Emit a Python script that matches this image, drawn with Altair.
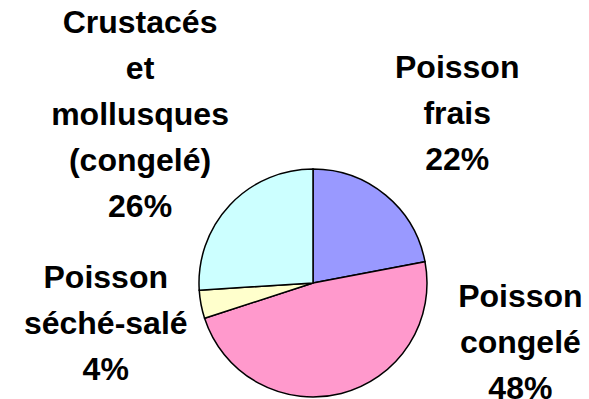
import math

import altair as alt
import pandas as pd

# Répartition des produits de la mer (en % du total)
categories = [
    "Poisson frais",
    "Poisson congelé",
    "Poisson séché-salé",
    "Crustacés et mollusques (congelé)",
]
valeurs = [22, 48, 4, 26]
couleurs = ["#9999FF", "#FF99CC", "#FFFFCC", "#CCFFFF"]

df = pd.DataFrame(
    {"categorie": categories, "valeur": valeurs, "rang": list(range(len(categories)))}
)

# Centre et rayon du camembert (pixels)
CX, CY, RAYON = 313, 283, 114

# Placement des étiquettes : rayon depuis le centre le long de l'angle médian,
# puis décalage dx / dy (ancre = ligne de base de la première ligne)
placement = {
    "Poisson frais": (220, 4, -35),
    "Poisson congelé": (90, 185, -63),
    "Poisson séché-salé": (211, 0, -35),
    "Crustacés et mollusques (congelé)": (240, 2, -86),
}

theta_scale = alt.Scale(domain=[0, sum(valeurs)], range=[0, 2 * math.pi])

base = alt.Chart(df)

camembert = base.mark_arc(outerRadius=RAYON, stroke="black", strokeWidth=1.5).encode(
    theta=alt.Theta("valeur:Q", stack=True, scale=theta_scale),
    color=alt.Color(
        "categorie:N",
        scale=alt.Scale(domain=categories, range=couleurs),
        legend=None,
    ),
    order=alt.Order("rang:Q"),
    x=alt.value(CX),
    y=alt.value(CY),
)

etiquettes_base = base.transform_window(
    cumul="sum(valeur)", frame=[None, 0]
).transform_calculate(
    milieu="datum.cumul - datum.valeur / 2",
    lignes="split(datum.categorie + ' ' + datum.valeur + '%', ' ')",
)

textes = []
for cat in categories:
    r, dx, dy = placement[cat]
    textes.append(
        etiquettes_base.transform_filter(alt.datum.categorie == cat)
        .mark_text(
            radius=r,
            dx=dx,
            dy=dy,
            font="Liberation Sans",
            fontWeight="bold",
            fontSize=32,
            lineHeight=46,
            align="center",
            baseline="alphabetic",
            color="black",
        )
        .encode(
            theta=alt.Theta("milieu:Q", scale=theta_scale),
            text=alt.Text("lignes:N"),
            x=alt.value(CX),
            y=alt.value(CY),
        )
    )

chart = (
    alt.layer(camembert, *textes)
    .properties(width=589, height=399, padding=0, autosize="none", background="white")
    .configure_view(stroke=None)
)

chart.save("out.html", embed_options={"renderer": "svg", "actions": False})
